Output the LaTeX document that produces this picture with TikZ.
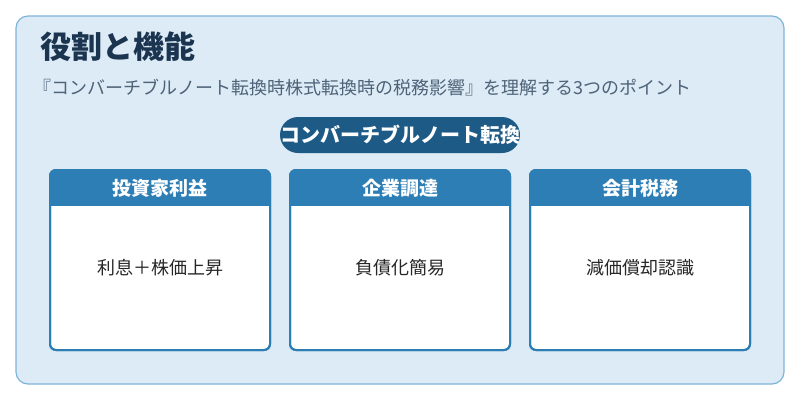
\documentclass[tikz,border=0pt]{standalone}
\usepackage{fontspec}
\setmainfont{Noto Sans CJK JP}
\usetikzlibrary{positioning}

\definecolor{bgblue}{HTML}{DDEBF6}
\definecolor{edgeblue}{HTML}{7DB4D8}
\definecolor{headblue}{HTML}{2E7EB6}
\definecolor{pillblue}{HTML}{1D5A86}
\definecolor{titlenavy}{HTML}{1B3550}
\definecolor{subgray}{HTML}{4E6378}

\tikzset{
    headbox/.style={fill=headblue, text=white, font=\bfseries\fontsize{19}{22}\selectfont,
        minimum width=220pt, minimum height=36pt, inner sep=0pt},
    bodybox/.style={draw=headblue, line width=2pt, fill=white, rounded corners=6pt,
        minimum width=220pt, minimum height=180pt, inner sep=0pt},
    bodytext/.style={font=\fontsize{18}{21}\selectfont, text=black!85}
}

\begin{document}
\begin{tikzpicture}[x=1pt,y=-1pt]
    \useasboundingbox (0,0) rectangle (800,400);
    \filldraw[fill=bgblue, draw=edgeblue, line width=1.2pt, rounded corners=12pt] (16,16) rectangle (784,384);

    \node[anchor=west, text=titlenavy, font=\bfseries\fontsize{31}{36}\selectfont] (title) at (37,47) {役割と機能};
    \node[anchor=west, text=subgray, font=\fontsize{18}{21}\selectfont] (subtitle) at (30,88)
        {『コンバーチブルノート転換時株式転換時の税務影響』を理解する3つのポイント};

    \node[fill=pillblue, text=white, rounded corners=18pt, minimum width=240pt, minimum height=36pt,
        inner sep=0pt, font=\bfseries\fontsize{20}{23}\selectfont] (pill) at (400,135) {コンバーチブルノート転換};

    % three cards
    \foreach \cx/\head/\body/\nm in {160/投資家利益/利息＋株価上昇/inv, 400/企業調達/負債化簡易/corp, 640/会計税務/減価償却認識/acc} {
        \node[bodybox] (\nm) at (\cx,260) {};
        \begin{scope}
            \clip[rounded corners=6pt] (\cx-110,170) rectangle (\cx+110,350);
            \node[headbox] (\nm head) at (\cx,188) {\head};
        \end{scope}
        \draw[headblue, line width=2pt, rounded corners=6pt] (\cx-110,170) rectangle (\cx+110,350);
        \node[bodytext] (\nm text) at (\cx,268) {\body};
    }
\end{tikzpicture}
\end{document}
